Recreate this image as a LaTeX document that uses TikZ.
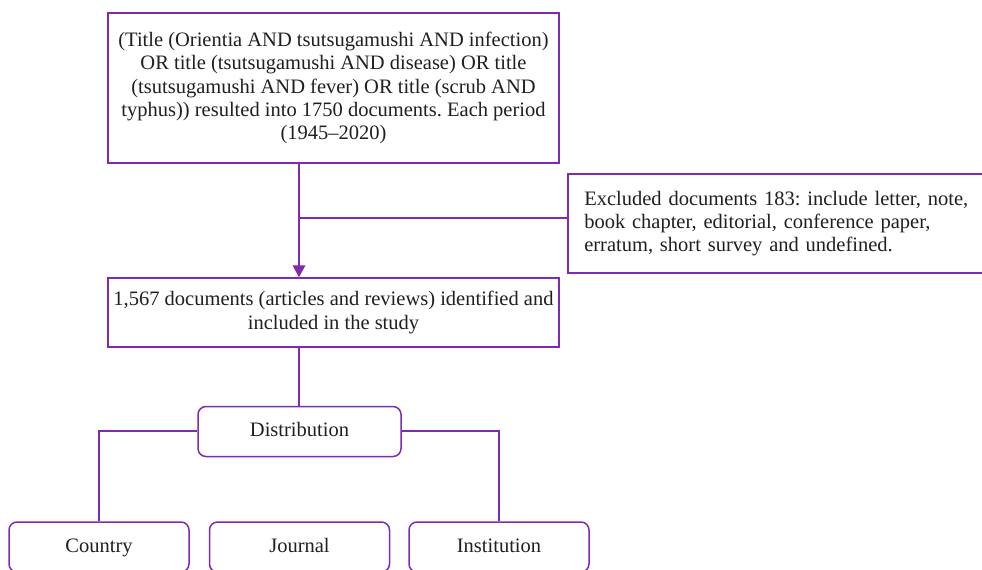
\documentclass[tikz,border=0pt]{standalone}
\usepackage{fontspec}
\setmainfont{Liberation Serif}
\usetikzlibrary{arrows.meta}
\definecolor{flowpurple}{RGB}{128,42,178}
\definecolor{flowtext}{RGB}{35,31,32}
\frenchspacing
\begin{document}
\begin{tikzpicture}[x=0.5pt,y=-0.5pt,line width=0.75pt,flow box/.style={draw=flowpurple, fill=white, text=flowtext, font=\fontsize{10.25}{11.6}\selectfont, align=center, inner sep=0pt},round box/.style={flow box, rounded corners=4pt, minimum height=25pt, text height=7.2pt, text depth=2.2pt},link/.style={draw=flowpurple, line width=0.85pt},flow arrow/.style={link, -{Triangle[width=6.3pt,length=6pt]}}]%
\useasboundingbox (0,0) rectangle (982,569);%
  % search query and result%
\node[flow box, minimum width=225.5pt, minimum height=75pt] (query) at (333.5,88) {(Title (Orientia AND tsutsugamushi AND infection)\\ OR title (tsutsugamushi AND disease) OR title\\ (tsutsugamushi AND fever) OR title (scrub AND\\ typhus)) resulted into 1750 documents. Each period\\ (1945--2020)};%
\node[flow box, minimum width=225.5pt, minimum height=34.5pt] (included) at (333.5,312.5) {1,567 documents (articles and reviews) identified and\\ included in the study};%
\node[flow box, anchor=west, align=left, minimum width=211.5pt, minimum height=49.5pt, text width=195pt, inner xsep=8pt] (excluded) at (567,223.5) {Excluded documents 183: include letter, note,\\ book chapter, editorial, conference paper,\\ erratum, short survey and undefined.};%
  % distribution%
\node[round box, minimum width=101.5pt] (dist) at (299.5,431.5) {Distribution};%
\node[round box, minimum width=90pt] (country) at (99,547) {Country};%
\node[round box, minimum width=90pt] (journal) at (299.5,547) {Journal};%
\node[round box, minimum width=90pt] (inst) at (499,547) {Institution};%
\coordinate (branch) at (299,218);%
\coordinate (split) at (299,431);%
\path[flow arrow] (query.south -| branch) -- (included.north -| branch);%
\path[link] (branch) -- (branch -| excluded.west);%
\path[link] (included.south -| branch) -- (dist.north -| branch);%
\path[link] (dist.west |- split) -| (country.north);%
\path[link] (dist.east |- split) -| (inst.north);%
\end{tikzpicture}
\end{document}
